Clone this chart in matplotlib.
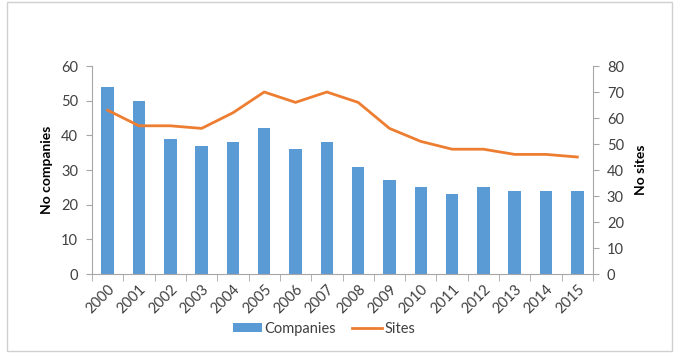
import matplotlib
matplotlib.use("Agg")
import matplotlib.pyplot as plt
import numpy as np
from matplotlib.patches import Rectangle

plt.rcParams['font.family'] = ['Lato', 'DejaVu Sans']

years = ['2000', '2001', '2002', '2003', '2004', '2005', '2006', '2007',
         '2008', '2009', '2010', '2011', '2012', '2013', '2014', '2015']
companies = [54, 50, 39, 37, 38, 42, 36, 38, 31, 27, 25, 23, 25, 24, 24, 24]
sites = [63, 57, 57, 56, 62, 70, 66, 70, 66, 56, 51, 48, 48, 46, 46, 45]

blue = '#5B9BD5'
orange = '#ED7D31'
axcol = '#A6A6A6'
txtcol = '#404040'

fig = plt.figure(figsize=(6.81, 3.58), dpi=100)
# outer chart border
fig.patches.append(Rectangle((7/681, 7/358), 665/681, 349/358, transform=fig.transFigure,
                             fill=False, edgecolor='#D0D0D0', linewidth=1))

ax = fig.add_axes([92/681, 1 - 274/358, (593 - 92)/681, (274 - 66)/358])
x = np.arange(len(years))
bars = ax.bar(x, companies, width=0.4, color=blue, label='Companies')
ax.set_xlim(-0.5, len(years) - 0.5)
ax.set_ylim(0, 60)
ax.set_yticks(range(0, 61, 10))

ax2 = ax.twinx()
line, = ax2.plot(x, sites, color=orange, linewidth=2, label='Sites')
ax2.set_ylim(0, 80)
ax2.set_yticks(range(0, 81, 10))

for a in (ax, ax2):
    for s in a.spines.values():
        s.set_visible(False)
    a.tick_params(axis='y', colors=axcol, labelcolor=txtcol, labelsize=10.5, length=4, pad=6)
ax.spines['left'].set_visible(True)
ax.spines['left'].set_color(axcol)
ax.spines['bottom'].set_visible(True)
ax.spines['bottom'].set_color(axcol)
ax2.spines['right'].set_visible(True)
ax2.spines['right'].set_color(axcol)

ax.set_xticks(x)
ax.set_xticklabels(years, rotation=45, ha='right', rotation_mode='anchor', fontsize=10.5, color=txtcol)
ax.set_xticks(np.arange(-0.5, len(years), 1), minor=True)
ax.tick_params(axis='x', which='major', length=0, pad=6)
ax.tick_params(axis='x', which='minor', length=5, color=axcol)

ax.set_ylabel('No companies', fontsize=10, fontweight='bold', color='black', labelpad=6)
ax2.set_ylabel('No sites', fontsize=10, fontweight='bold', color='black', labelpad=8)

fig.legend([bars, line], ['Companies', 'Sites'], loc='center', bbox_to_anchor=(324/681, 1 - 329/358),
           ncol=2, frameon=False, fontsize=10.5, handlelength=2, handleheight=0.6,
           columnspacing=1.1, handletextpad=0.2, labelcolor=txtcol)

fig.savefig('out.png', dpi=100)
